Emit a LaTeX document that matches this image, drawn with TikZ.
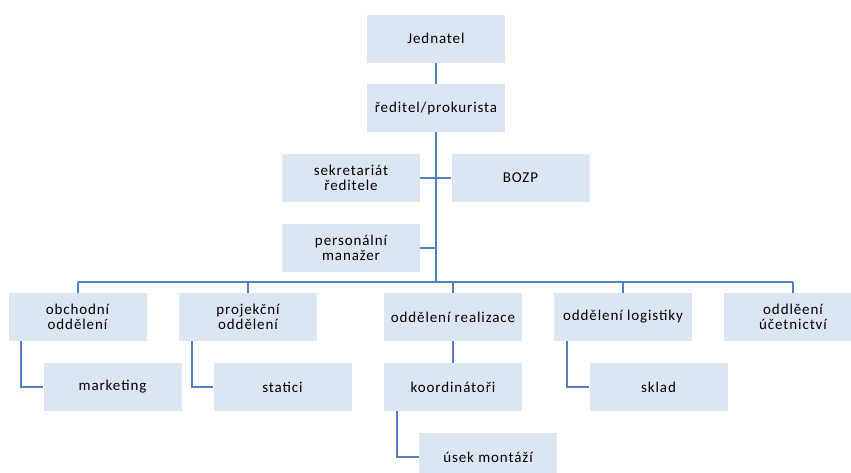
\documentclass[tikz,border=0pt]{standalone}
\usepackage{fontspec}
\setmainfont{Carlito}[LetterSpace=6]
\usetikzlibrary{calc}
\definecolor{boxfill}{HTML}{DCE6F2}
\definecolor{linkblue}{HTML}{4F81BD}

\begin{document}
\begin{tikzpicture}[x=1pt,y=-1pt,
  unit/.style={fill=boxfill,minimum width=138pt,minimum height=48pt,inner sep=0pt,
    align=center,font=\fontsize{15}{15}\selectfont},
  link/.style={draw=linkblue,line width=2pt}]
  \useasboundingbox (0,0) rectangle (851,472);
  % vedeni
  \node[unit] (jed) at (436,38.5) {Jednatel};
  \node[unit] (red) at (436,108) {ředitel/prokurista};
  \node[unit] (sek) at (351,178) {sekretariát\\ředitele};
  \node[unit] (bozp) at (520.5,178) {BOZP};
  \node[unit] (pers) at (351,247.5) {personální\\manažer};
  \coordinate (bus) at (436,282);
  % oddeleni
  \node[unit] (obch) at (77.5,317) {obchodní\\oddělení};
  \node[unit] (proj) at (248,317) {projekční\\oddělení};
  \node[unit] (real) at (453,317) {oddělení realizace};
  \node[unit] (log) at (623,317) {oddělení logistiky};
  \node[unit] (uct) at (793,317) {oddlěení\\účetnictví};
  % podrizene
  \node[unit] (mark) at (112.5,387) {marketing};
  \node[unit] (stat) at (282.5,387) {statici};
  \node[unit] (koord) at (453,387) {koordinátoři};
  \node[unit] (sklad) at (658.5,387) {sklad};
  \node[unit] (usek) at (488,457) {úsek montáží};
  % spoje
  \draw[link] (jed) -- (red);
  \draw[link] (red.south) -- (bus);
  \draw[link] (sek.east) -- (bozp.west);
  \draw[link] (pers.east) -- (pers.east -| bus);
  \draw[link] (obch.north |- bus) -- (uct.north |- bus);
  \foreach \d in {obch,proj,real,log,uct}
    \draw[link] (\d.north) -- (\d.north |- bus);
  \draw[link] (real) -- (koord);
  \draw[link] ($(obch.south west)+(13,0)$) |- (mark.west);
  \draw[link] ($(proj.south west)+(13,0)$) |- (stat.west);
  \draw[link] ($(log.south west)+(13,0)$) |- (sklad.west);
  \draw[link] ($(koord.south west)+(13,0)$) |- (usek.west);
\end{tikzpicture}
\end{document}
